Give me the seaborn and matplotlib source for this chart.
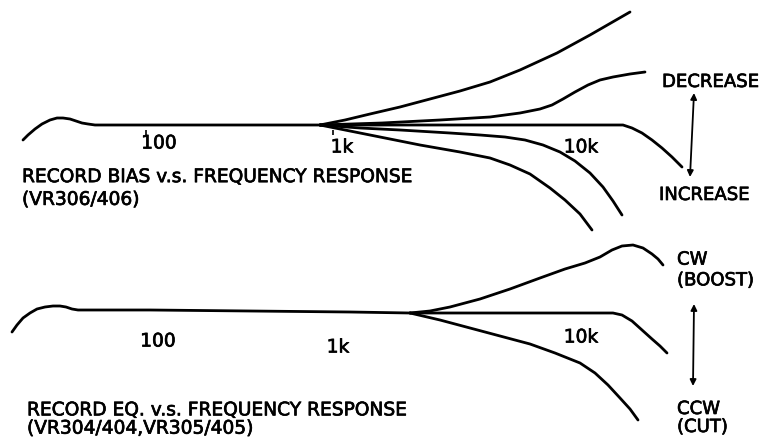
import numpy as np
import pandas as pd
import matplotlib
matplotlib.use("Agg")
import matplotlib.pyplot as plt
import matplotlib.patheffects as pe
import seaborn as sns

# --- dữ liệu (toạ độ theo pixel của bản vẽ, trục y hướng xuống) ---
# Bản vẽ trên: RECORD BIAS
bias_base_x = [23, 28, 35, 42, 50, 57, 63, 70, 76, 82, 88, 95, 150, 250, 320]
bias_base_y = [140, 135, 129, 124, 120, 118, 118, 119, 121, 123, 124, 125, 125, 125, 125]

bias_c1_x = [320, 345, 370, 400, 430, 460, 490, 520, 557, 590, 630]
bias_c1_y = [125, 120, 114, 107, 99, 91, 82, 70, 53, 35, 12]
bias_c2_x = [320, 382, 440, 490, 520, 540, 552, 563, 575, 588, 600, 613, 630, 645]
bias_c2_y = [125, 123, 120, 117, 113, 109, 105, 99, 92, 85, 80, 77, 74, 72]
bias_c3_x = [320, 400, 490, 560, 623, 632, 642, 652, 662, 672, 682]
bias_c3_y = [125, 125, 125, 125, 125, 128, 133, 140, 148, 157, 167]
bias_c4_x = [320, 360, 400, 450, 480, 505, 525, 543, 560, 575, 590, 603, 613, 622]
bias_c4_y = [125, 128, 130, 133, 135, 137, 140, 145, 152, 161, 173, 187, 201, 215]
bias_c5_x = [320, 350, 380, 420, 460, 490, 510, 530, 550, 565, 580, 592]
bias_c5_y = [125, 131, 137, 145, 152, 158, 165, 174, 188, 200, 214, 230]

# Bản vẽ dưới: RECORD EQ
eq_base_x = [12, 17, 23, 30, 37, 45, 53, 60, 66, 72, 78, 150, 250, 350, 410]
eq_base_y = [332, 325, 318, 313, 309, 307, 306, 306, 307, 309, 310, 310, 311, 312, 313]

eq_c1_x = [410, 430, 450, 480, 510, 540, 565, 585, 600, 612, 622, 633, 643, 652, 658, 663]
eq_c1_y = [313, 311, 307, 299, 289, 278, 269, 263, 257, 250, 246, 245, 248, 254, 259, 265]
eq_c2_x = [410, 500, 560, 613, 622, 632, 642, 652, 660, 667]
eq_c2_y = [313, 313, 313, 313, 315, 321, 330, 339, 346, 353]
eq_c3_x = [410, 440, 470, 500, 530, 555, 580, 595, 608, 620, 630, 638]
eq_c3_y = [313, 320, 328, 336, 344, 353, 363, 373, 385, 398, 409, 420]

tick_labels = ["100", "1k", "10k"]
bias_tick_x = [159, 342, 581]
bias_tick_y = [143, 147, 147]
eq_tick_x = [158, 338, 581]
eq_tick_y = [341, 347, 337]
bias_tick_mark_x = [146, 333]

curves = [
    ("bias_base", bias_base_x, bias_base_y),
    ("bias_1", bias_c1_x, bias_c1_y),
    ("bias_2", bias_c2_x, bias_c2_y),
    ("bias_3", bias_c3_x, bias_c3_y),
    ("bias_4", bias_c4_x, bias_c4_y),
    ("bias_5", bias_c5_x, bias_c5_y),
    ("eq_base", eq_base_x, eq_base_y),
    ("eq_1", eq_c1_x, eq_c1_y),
    ("eq_2", eq_c2_x, eq_c2_y),
    ("eq_3", eq_c3_x, eq_c3_y),
]
df = pd.concat([pd.DataFrame({"x": xs, "y": ys, "curve": name}) for name, xs, ys in curves],
               ignore_index=True)

sns.set_theme(style="white")
plt.rcParams["font.family"] = ["DejaVu Sans"]
plt.rcParams["text.color"] = "black"

fig = plt.figure(figsize=(7.64, 4.38), dpi=100)
ax = fig.add_axes([0, 0, 1, 1])
sns.lineplot(data=df, x="x", y="y", units="curve", estimator=None, sort=False,
             color="black", linewidth=2.0, ax=ax, legend=False)
ax.set_xlim(0, 764)
ax.set_ylim(438, 0)
ax.axis("off")

fs = 13.4
bold = [pe.withStroke(linewidth=0.5, foreground="black")]
for lab, x, y in zip(tick_labels, bias_tick_x, bias_tick_y):
    ax.text(x, y, lab, ha="center", va="center", fontsize=fs, path_effects=bold)
for lab, x, y in zip(tick_labels, eq_tick_x, eq_tick_y):
    ax.text(x, y, lab, ha="center", va="center", fontsize=fs, path_effects=bold)
ax.vlines(bias_tick_mark_x, 130, 135, color="black", linewidth=1.2)

ax.text(22, 188, "RECORD BIAS v.s. FREQUENCY RESPONSE\n(VR306/406)",
        ha="left", va="center", fontsize=fs, linespacing=1.25, path_effects=bold)
ax.text(27, 419, "RECORD EQ. v.s. FREQUENCY RESPONSE\n(VR304/404,VR305/405)",
        ha="left", va="center", fontsize=fs, linespacing=0.95, path_effects=bold)

fs2 = 13
ax.text(662, 82, "DECREASE", ha="left", va="center", fontsize=fs2, path_effects=bold)
ax.text(659, 195, "INCREASE", ha="left", va="center", fontsize=fs2, path_effects=bold)
ax.text(677, 270, "CW\n(BOOST)", ha="left", va="center", fontsize=fs2, linespacing=1.2, path_effects=bold)
ax.text(677, 418, "CCW\n(CUT)", ha="left", va="center", fontsize=fs2, linespacing=1.0, path_effects=bold)

arrow = dict(arrowstyle="<|-|>", color="black", lw=1.3, mutation_scale=9, shrinkA=0, shrinkB=0)
ax.annotate("", xy=(694, 93), xytext=(690, 177), arrowprops=arrow)
ax.annotate("", xy=(694, 304), xytext=(693, 386), arrowprops=arrow)

fig.savefig("out.png", dpi=100)
